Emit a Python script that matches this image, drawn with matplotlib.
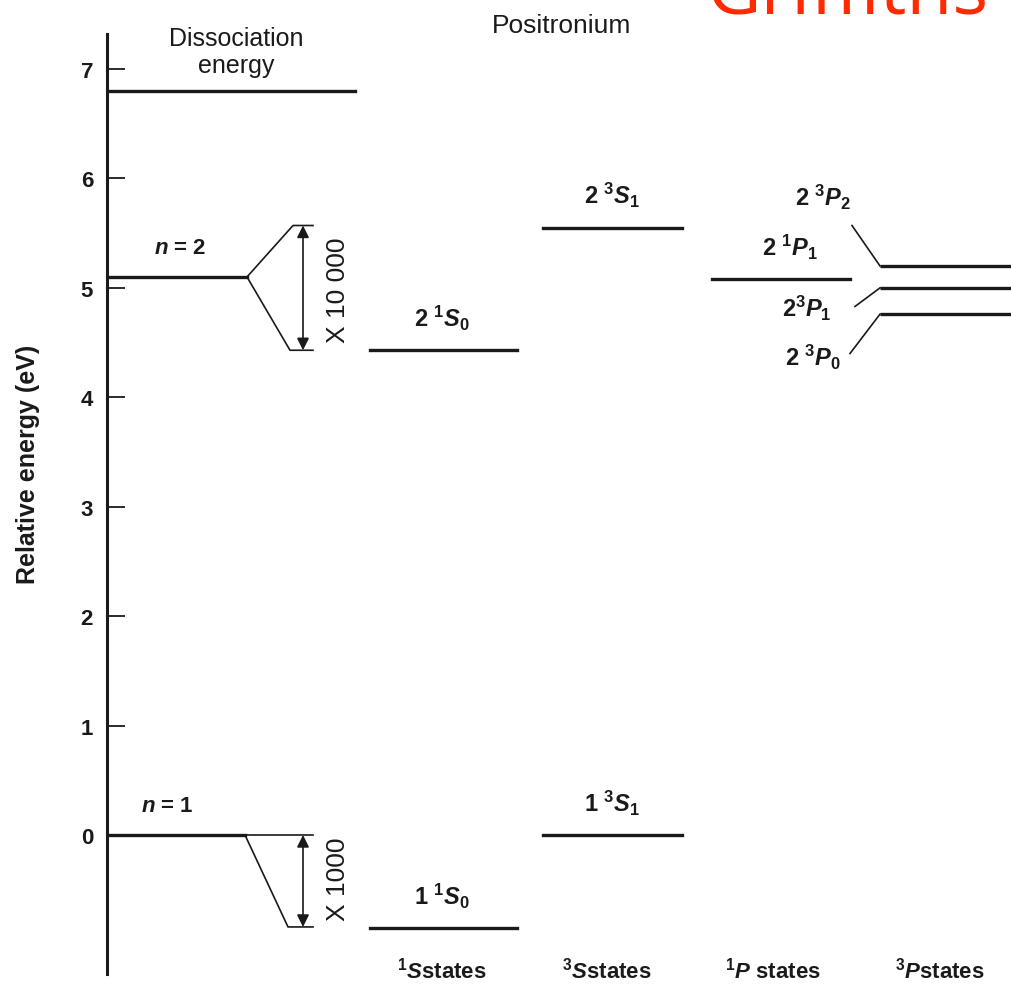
import matplotlib.pyplot as plt

# energies in eV
dissociation = 6.8
n_levels = [0.0, 5.1]                  # n = 1, n = 2 (no fine structure)
singlet_s = [-0.85, 4.43]              # 1 1S0, 2 1S0
triplet_s = [0.0, 5.55]                # 1 3S1, 2 3S1
singlet_p = [5.08]                     # 2 1P1
triplet_p = [5.20, 5.00, 4.76]         # 2 3P2, 2 3P1, 2 3P0
yticks = [0, 1, 2, 3, 4, 5, 6, 7]

singlet_s_labels = [r'1 $^{1}S_{0}$', r'2 $^{1}S_{0}$']
triplet_s_labels = [r'1 $^{3}S_{1}$', r'2 $^{3}S_{1}$']
singlet_p_labels = [r'2 $^{1}P_{1}$']
triplet_p_labels = [r'2 $^{3}P_{2}$', r'2$^{3}P_{1}$', r'2 $^{3}P_{0}$']
column_titles = [r'$^{1}S$states', r'$^{3}S$states', r'$^{1}P$ states', r'$^{3}P$states']

plt.rcParams['font.family'] = ['Liberation Sans', 'DejaVu Sans']
plt.rcParams['mathtext.fontset'] = 'custom'
plt.rcParams['mathtext.rm'] = 'Liberation Sans:bold'
plt.rcParams['mathtext.it'] = 'Liberation Sans:italic:bold'
plt.rcParams['mathtext.bf'] = 'Liberation Sans:bold'

INK = '#1a1a1a'
LW = 2.4
THIN = 1.2

fig = plt.figure(figsize=(10.11, 9.87), dpi=100)
ax = fig.add_axes([107 / 1011, 12 / 987, 904 / 1011, 940 / 987])
ax.set_xlim(0, 904)
ax.set_ylim(-1.27, 7.32)

for side in ['top', 'right', 'bottom']:
    ax.spines[side].set_visible(False)
ax.spines['left'].set_linewidth(2.2)
ax.spines['left'].set_color(INK)
ax.set_xticks([])
ax.set_yticks(yticks)
ax.tick_params(axis='y', direction='in', length=13, width=1.3, pad=10,
               labelsize=16, colors=INK)
for lab in ax.get_yticklabels():
    lab.set_fontweight('bold')
ax.set_ylabel('Relative energy (eV)', fontsize=18, fontweight='bold', color=INK)
ax.yaxis.set_label_coords(-0.074, 0.5 + 41 / 940)

# dissociation energy
ax.plot([3, 248], [dissociation, dissociation], color=INK, lw=LW)
ax.text(129, 7.16, 'Dissociation\nenergy', ha='center',
        va='center', fontsize=18, color=INK, linespacing=1.2, clip_on=False)
ax.text(455, 7.4, 'Positronium', ha='center', va='center', fontsize=19,
        color=INK, clip_on=False)

# n = 2 with the fine-structure fan (x 10 000)
n1, n2 = n_levels
ax.plot([3, 140], [n2, n2], color=INK, lw=LW)
ax.plot([140, 186, 206], [n2, triplet_s[1] + 0.02, triplet_s[1] + 0.02], color=INK, lw=THIN)
ax.plot([140, 183, 206], [n2, singlet_s[1], singlet_s[1]], color=INK, lw=THIN)
ax.annotate('', xy=(196, triplet_s[1] + 0.02), xytext=(196, singlet_s[1]),
            arrowprops=dict(arrowstyle='<|-|>', lw=THIN, color=INK, mutation_scale=18,
                            shrinkA=0, shrinkB=0))
ax.text(231, (triplet_s[1] + singlet_s[1]) / 2, 'X 10 000', rotation=90,
        ha='center', va='center', fontsize=19, color=INK)
ax.text(73, n2 + 0.27, r'$n$ = 2', ha='center', va='center', fontsize=16,
        color=INK, fontweight='bold')

# n = 1 with the hyperfine drop (x 1000)
ax.plot([3, 138], [n1, n1], color=INK, lw=LW)
ax.plot([138, 206], [n1, n1], color=INK, lw=THIN)
ax.plot([138, 181, 206], [n1, singlet_s[0] + 0.01, singlet_s[0] + 0.01], color=INK, lw=THIN)
ax.annotate('', xy=(196, n1), xytext=(196, singlet_s[0] + 0.01),
            arrowprops=dict(arrowstyle='<|-|>', lw=THIN, color=INK, mutation_scale=18,
                            shrinkA=0, shrinkB=0))
ax.text(231, (n1 + singlet_s[0]) / 2 + 0.03, 'X 1000', rotation=90,
        ha='center', va='center', fontsize=19, color=INK)
ax.text(60, n1 + 0.27, r'$n$ = 1', ha='center', va='center', fontsize=16,
        color=INK, fontweight='bold')

# S columns
for e, lab in zip(singlet_s, singlet_s_labels):
    ax.plot([263, 410], [e, e], color=INK, lw=LW)
    ax.text(335, e + 0.3, lab, ha='center', va='center', fontsize=17,
            color=INK, fontweight='bold')
for e, lab in zip(triplet_s, triplet_s_labels):
    ax.plot([436, 575], [e, e], color=INK, lw=LW)
    ax.text(505, e + 0.3, lab, ha='center', va='center', fontsize=17,
            color=INK, fontweight='bold')

# 1P column
for e, lab in zip(singlet_p, singlet_p_labels):
    ax.plot([605, 743], [e, e], color=INK, lw=LW)
    ax.text(683, e + 0.3, lab, ha='center', va='center', fontsize=17,
            color=INK, fontweight='bold')

# 3P column, labels fanned out on the left
slant_end = [(745, 5.57), (748, 4.83), (743, 4.40)]
label_pos = [(716, 5.84), (700, 4.82), (706, 4.37)]
for e, (sx, sy), (lx, ly), lab in zip(triplet_p, slant_end, label_pos, triplet_p_labels):
    ax.plot([sx, 773], [sy, e], color=INK, lw=THIN)
    ax.plot([773, 904], [e, e], color=INK, lw=LW, clip_on=False,
            solid_capstyle='butt')
    ax.text(lx, ly, lab, ha='center', va='center', fontsize=17,
            color=INK, fontweight='bold')

# column titles under the axis
for x, title in zip([335, 500, 666, 833], column_titles):
    ax.text(x, -1.23, title, ha='center', va='center', fontsize=16, color=INK,
            fontweight='bold', clip_on=False)

fig.text(0.699, 1 - 13 / 987, 'Griffiths', fontsize=54, color='#ff2a00',
         family='Open Sans', va='baseline', ha='left')

fig.savefig('out.png', dpi=100)
